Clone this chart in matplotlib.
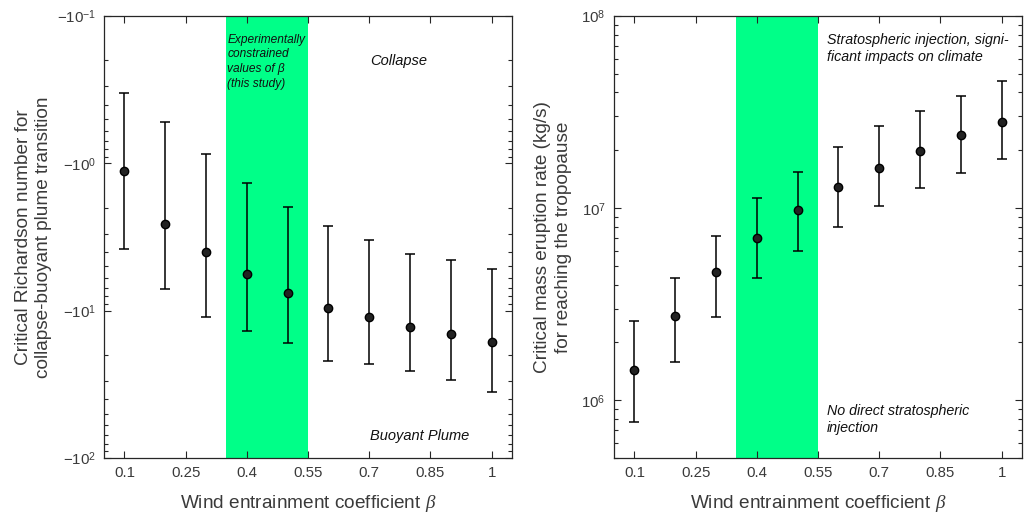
import matplotlib
matplotlib.use("Agg")
import matplotlib.pyplot as plt
import numpy as np
from matplotlib.ticker import FixedLocator, LogLocator, NullFormatter, FuncFormatter

plt.rcParams['font.family'] = ['Liberation Sans', 'DejaVu Sans']
plt.rcParams['mathtext.fontset'] = 'custom'
plt.rcParams['mathtext.rm'] = 'Liberation Sans'
plt.rcParams['mathtext.it'] = 'Liberation Serif:italic'
plt.rcParams['mathtext.sf'] = 'Liberation Sans'
plt.rcParams['axes.unicode_minus'] = False

# ---- data ----
beta = [0.1, 0.2, 0.3, 0.4, 0.5, 0.6, 0.7, 0.8, 0.9, 1.0]

# Critical Richardson number (negative values)
ri = [-1.12, -2.57, -4.02, -5.63, -7.57, -9.62, -11.07, -12.9, -14.4, -16.4]
ri_upper = [-0.331, -0.522, -0.871, -1.35, -1.97, -2.65, -3.33, -4.14, -4.55, -5.24]
ri_lower = [-3.83, -7.16, -11.07, -13.8, -16.6, -22.0, -23.1, -25.8, -29.6, -35.7]

# Critical mass eruption rate (kg/s)
mer = [1.44e6, 2.74e6, 4.64e6, 7.0e6, 9.77e6, 1.28e7, 1.62e7, 1.99e7, 2.40e7, 2.81e7]
mer_upper = [2.57e6, 4.32e6, 7.15e6, 1.125e7, 1.55e7, 2.08e7, 2.66e7, 3.22e7, 3.85e7, 4.61e7]
mer_lower = [7.71e5, 1.58e6, 2.71e6, 4.32e6, 5.97e6, 7.94e6, 1.02e7, 1.27e7, 1.52e7, 1.81e7]

band = [0.35, 0.55]
xticks = [0.1, 0.25, 0.4, 0.55, 0.7, 0.85, 1.0]
xticklabels = ['0.1', '0.25', '0.4', '0.55', '0.7', '0.85', '1']

band_color = '#00FF88'
txt_color = '#262626'
lbl_color = '#3a3a3a'

fig = plt.figure(figsize=(10.29, 5.14), dpi=100)
ax1 = fig.add_axes([104/1029, 56/514, 408/1029, 442/514])
ax2 = fig.add_axes([614/1029, 56/514, 408/1029, 442/514])


def style(ax):
    ax.set_xlim(0.05, 1.05)
    ax.set_xticks(xticks)
    ax.set_xticklabels(xticklabels)
    ax.tick_params(axis='both', which='both', direction='in', top=True, right=True,
                   color=txt_color, labelcolor=lbl_color, labelsize=10.8, width=0.8)
    ax.tick_params(axis='both', which='major', length=5, pad=6)
    ax.tick_params(axis='y', which='minor', length=3)
    for s in ax.spines.values():
        s.set_color(txt_color)
        s.set_linewidth(0.9)
    ax.set_xlabel(r'Wind entrainment coefficient $\beta$', fontsize=13.7, color=lbl_color,
                  labelpad=9)
    ax.axvspan(band[0], band[1], color=band_color, lw=0, zorder=0)


# ---- left panel ----
mag = -np.array(ri)
err_lo = mag - (-np.array(ri_upper))
err_hi = (-np.array(ri_lower)) - mag
ax1.errorbar(beta, mag, yerr=[err_lo, err_hi], fmt='o', color='black', ms=6,
             capsize=3.5, elinewidth=1.1, capthick=1.1, mfc='#222222', mec='black', zorder=3)
ax1.set_yscale('log')
ax1.set_ylim(100, 0.1)
ax1.yaxis.set_major_locator(FixedLocator([0.1, 1, 10, 100]))
ax1.yaxis.set_major_formatter(FuncFormatter(lambda v, p: r'$\mathrm{-10}^{%d}$' % round(np.log10(v))))
ax1.yaxis.set_minor_locator(LogLocator(base=10, subs=np.arange(2, 10)))
ax1.yaxis.set_minor_formatter(NullFormatter())
style(ax1)
ax1.set_ylabel('Critical Richardson number for\ncollapse-buoyant plume transition',
               fontsize=13.7, color=lbl_color, labelpad=3, linespacing=1.3)

tr1 = ax1.get_xaxis_transform()
ax1.text(0.352, 0.96, 'Experimentally\nconstrained\nvalues of \u03b2\n(this study)',
         transform=tr1, fontsize=8.6, style='italic', ha='left', va='top',
         color='#111111', linespacing=1.3)
ax1.text(0.703, 0.898, 'Collapse', transform=tr1, fontsize=10.5, style='italic',
         ha='left', va='center', color='#111111')
ax1.text(0.703, 0.050, 'Buoyant Plume', transform=tr1, fontsize=10.5, style='italic',
         ha='left', va='center', color='#111111')

# ---- right panel ----
m = np.array(mer)
e_lo = m - np.array(mer_lower)
e_hi = np.array(mer_upper) - m
ax2.errorbar(beta, m, yerr=[e_lo, e_hi], fmt='o', color='black', ms=6,
             capsize=3.5, elinewidth=1.1, capthick=1.1, mfc='#222222', mec='black', zorder=3)
ax2.set_yscale('log')
ax2.set_ylim(5e5, 1e8)
ax2.yaxis.set_major_locator(FixedLocator([1e6, 1e7, 1e8]))
ax2.yaxis.set_major_formatter(FuncFormatter(lambda v, p: r'$\mathrm{10}^{%d}$' % round(np.log10(v))))
ax2.yaxis.set_minor_locator(LogLocator(base=10, subs=np.arange(2, 10)))
ax2.yaxis.set_minor_formatter(NullFormatter())
style(ax2)
ax2.set_ylabel('Critical mass eruption rate (kg/s)\nfor reaching the tropopause',
               fontsize=13.7, color=lbl_color, labelpad=7, linespacing=1.3)

tr2 = ax2.get_xaxis_transform()
ax2.text(0.572, 0.962, 'Stratospheric injection, signi-\nficant impacts on climate',
         transform=tr2, fontsize=10.3, style='italic', ha='left', va='top',
         color='#111111', linespacing=1.3)
ax2.text(0.572, 0.052, 'No direct stratospheric\ninjection',
         transform=tr2, fontsize=10.3, style='italic', ha='left', va='bottom',
         color='#111111', linespacing=1.3)

fig.savefig('out.png', dpi=100)
